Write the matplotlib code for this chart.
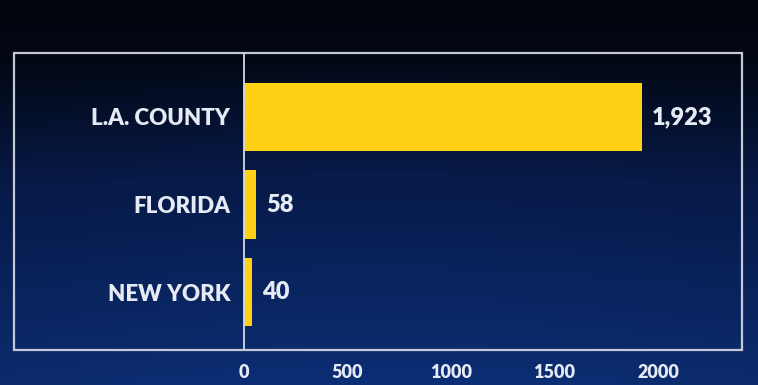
import numpy as np
import matplotlib.pyplot as plt
from matplotlib.colors import LinearSegmentedColormap
from matplotlib.patches import Rectangle

# data
regions = ['L.A. COUNTY', 'FLORIDA', 'NEW YORK']
counts = [1923, 58, 40]
count_labels = ['1,923', '58', '40']
x_ticks = [0, 500, 1000, 1500, 2000]

W, H = 758, 385
fig = plt.figure(figsize=(W / 100, H / 100), dpi=100)

# dark navy gradient behind everything
bg = fig.add_axes([0, 0, 1, 1], zorder=0)
bg.set_axis_off()
grad_cmap = LinearSegmentedColormap.from_list(
    'bg', [(0.0, '#02040b'), (0.15, '#030815'), (0.45, '#071a48'), (1.0, '#0c2e74')])
rows = np.linspace(0, 1, 256).reshape(-1, 1)
cols = np.linspace(0, 1, 64).reshape(1, -1)
shade = rows * (0.92 + 0.08 * np.sin(np.pi * cols))
bg.imshow(shade, cmap=grad_cmap, aspect='auto', extent=[0, 1, 1, 0], vmin=0, vmax=1)

# outer white frame
box_l, box_t, box_r, box_b = 14, 53, 742, 350
fig.patches.append(Rectangle((box_l / W, 1 - box_b / H), (box_r - box_l) / W, (box_b - box_t) / H,
                             transform=fig.transFigure, fill=False, edgecolor='#c3c9d6',
                             linewidth=1.6, zorder=5))

ax = fig.add_axes([244 / W, 1 - box_b / H, (box_r - 244) / W, (box_b - box_t) / H], zorder=2)
ax.patch.set_alpha(0)

txt = '#e6eaf3'
font = 'Lato'
ypos = np.arange(len(regions))
ax.barh(ypos, counts, height=0.78, color='#ffd013', edgecolor='none')
for y, v, lab in zip(ypos, counts, count_labels):
    ax.annotate(lab, (v, y), xytext=(7, 0), textcoords='offset points', va='center', ha='left',
                color=txt, fontsize=17, fontweight='heavy', family=font)

ax.set_xlim(0, 2406)
ax.set_ylim(2.66, -0.73)
ax.set_yticks(ypos)
ax.set_yticklabels(regions, fontsize=16, fontweight='heavy', family=font, color=txt)
ax.set_xticks(x_ticks)
ax.set_xticklabels([str(t) for t in x_ticks], fontsize=13, fontweight='heavy', family=font, color=txt)
ax.tick_params(axis='y', length=0, pad=10)
ax.tick_params(axis='x', length=0, pad=10)
for s in ['top', 'right', 'bottom']:
    ax.spines[s].set_visible(False)
ax.spines['left'].set_color('#d4d9e4')
ax.spines['left'].set_linewidth(1.3)

fig.savefig('out.png', dpi=100)
